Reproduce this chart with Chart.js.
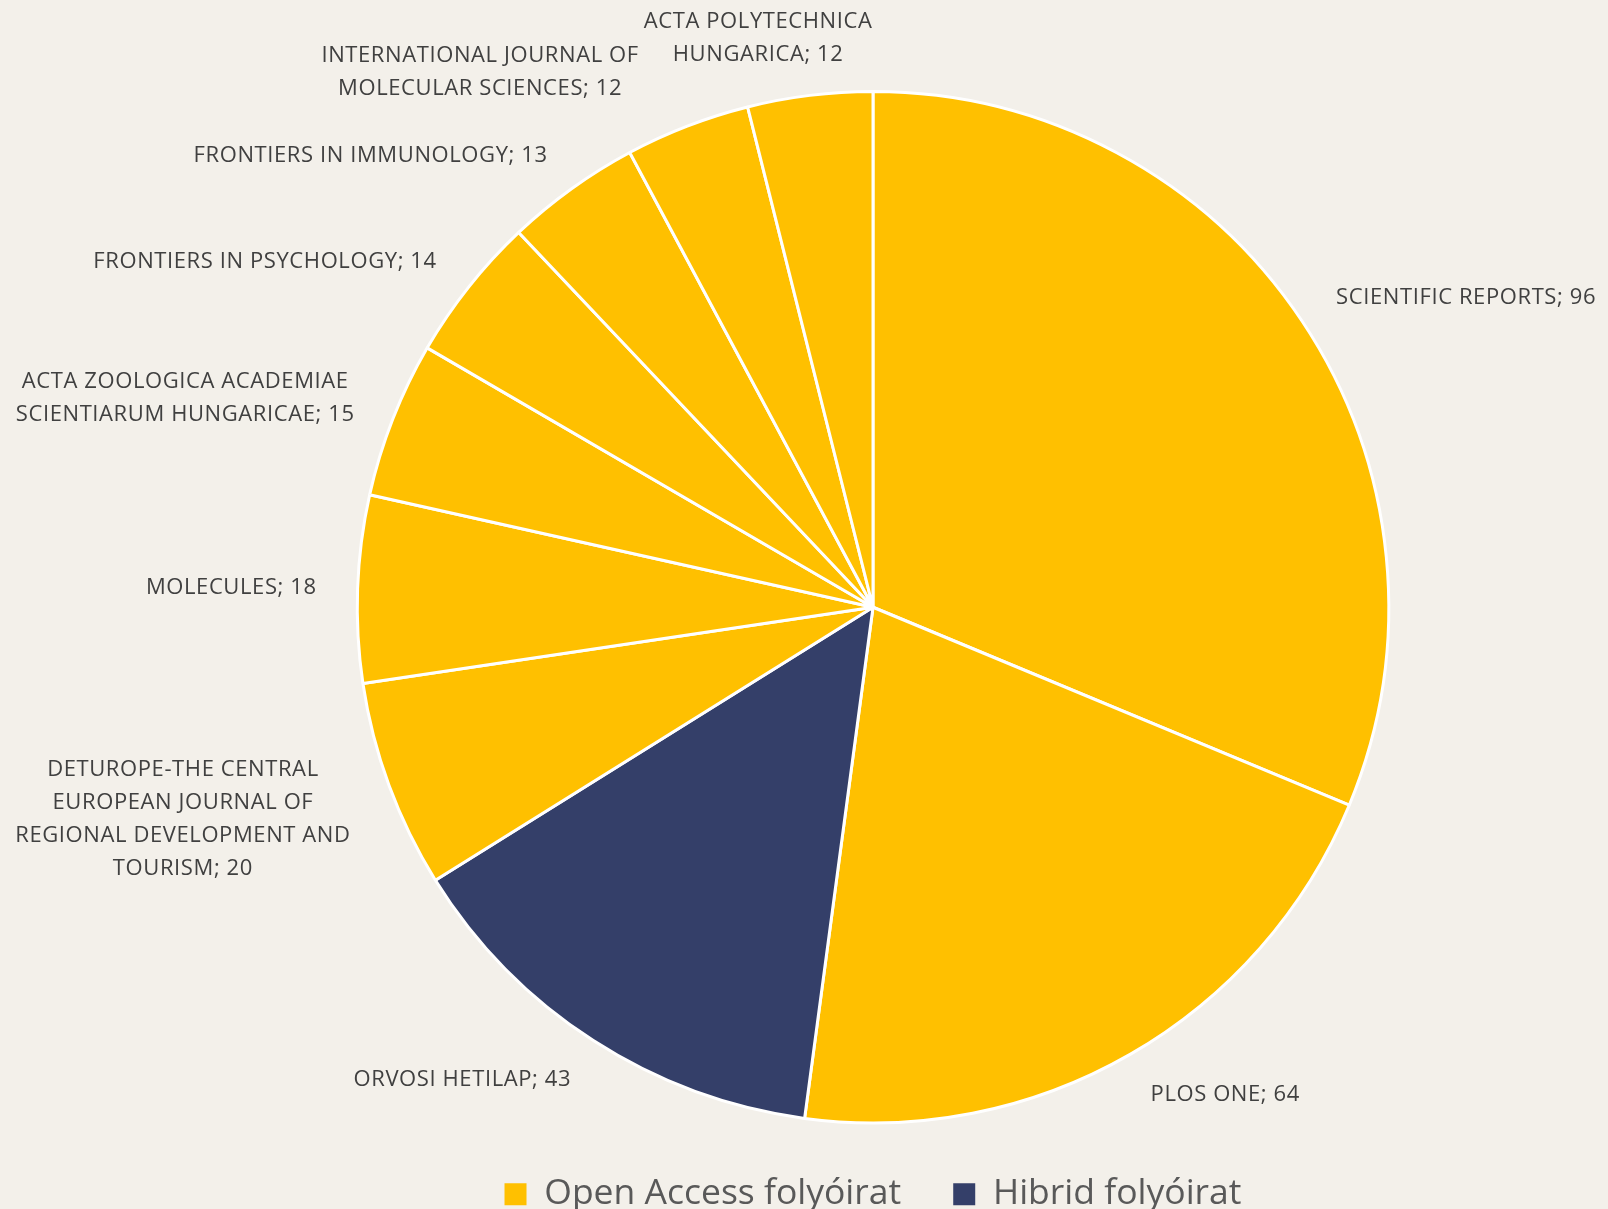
<!DOCTYPE html>
<html>
<head>
<meta charset="utf-8">
<script src="https://cdn.jsdelivr.net/npm/chart.js@4"></script>
<style>
  html, body { margin: 0; padding: 0; background: #F3F0EA; }
  #chart { display: block; }
</style>
</head>
<body>
<canvas id="chart" width="1608" height="1209"></canvas>
<script>
// folyóiratok (sorokra tördelve, ahogy a képen)
const journalNames = [
    ['SCIENTIFIC REPORTS'],
    ['PLOS ONE'],
    ['ORVOSI HETILAP'],
    ['DETUROPE-THE CENTRAL', 'EUROPEAN JOURNAL OF', 'REGIONAL DEVELOPMENT AND', 'TOURISM'],
    ['MOLECULES'],
    ['ACTA ZOOLOGICA ACADEMIAE', 'SCIENTIARUM HUNGARICAE'],
    ['FRONTIERS IN PSYCHOLOGY'],
    ['FRONTIERS IN IMMUNOLOGY'],
    ['INTERNATIONAL JOURNAL OF', 'MOLECULAR SCIENCES'],
    ['ACTA POLYTECHNICA', 'HUNGARICA']
];
const articleCounts = [96, 64, 43, 20, 18, 15, 14, 13, 12, 12];
const journalTypes = ['oa', 'oa', 'hibrid', 'oa', 'oa', 'oa', 'oa', 'oa', 'oa', 'oa'];

const typeNames = { oa: 'Open Access folyóirat', hibrid: 'Hibrid folyóirat' };
const typeColors = { oa: '#FFC000', hibrid: '#343F69' };

const labelFont = '22px "Open Sans"';
const labelColor = '#404040';
const lineH = 33;
const labelGap = 41;

// címkék a szeletek mellé, a középszög irányában, átfedés nélkül
const outsideLabels = {
    id: 'outsideLabels',
    afterDatasetsDraw(chart) {
        const ctx = chart.ctx;
        const meta = chart.getDatasetMeta(0);
        ctx.save();
        ctx.font = labelFont;
        if ('letterSpacing' in ctx) ctx.letterSpacing = '0.6px';
        ctx.fillStyle = labelColor;
        ctx.textBaseline = 'middle';
        ctx.textAlign = 'center';

        const boxes = meta.data.map((arc, i) => {
            const p = arc.getProps(['x', 'y', 'startAngle', 'endAngle', 'outerRadius'], true);
            const mid = (p.startAngle + p.endAngle) / 2;
            const cos = Math.cos(mid), sin = Math.sin(mid);
            const ax = p.x + cos * (p.outerRadius + labelGap);
            const ay = p.y + sin * (p.outerRadius + labelGap);

            const lines = journalNames[i].slice();
            lines[lines.length - 1] += '; ' + articleCounts[i];
            const w = Math.max(...lines.map(l => ctx.measureText(l).width));
            const h = lines.length * lineH;
            const s = Math.max(-1, Math.min(1, cos / 0.3));
            const cx = ax + s * w / 2;
            const cy = ay + sin * (lines.length - 1) * lineH / 2 + Math.max(sin, 0) * 6;
            return { lines, w, h, cx, cy, left: cx - w / 2, top: cy - h / 2, side: cos < 0 ? -1 : 1 };
        });

        // a felső címkéktől lefelé haladva toljuk el az ütközőket
        const placed = [];
        for (let i = boxes.length - 1; i >= 0; i--) {
            const b = boxes[i];
            placed.forEach(o => {
                const overlapX = b.left < o.left + o.w && b.left + b.w > o.left;
                const overlapY = b.top < o.top + o.h - 4 && b.top + b.h - 4 > o.top;
                if (overlapX && overlapY) {
                    b.left = b.side < 0 ? o.left - 5 - b.w : o.left + o.w + 5;
                }
            });
            placed.push(b);
        }

        boxes.forEach(b => {
            b.lines.forEach((l, k) => {
                ctx.fillText(l, b.left + b.w / 2, b.top + lineH / 2 + k * lineH);
            });
        });
        ctx.restore();
    }
};

new Chart(document.getElementById('chart').getContext('2d'), {
    type: 'pie',
    data: {
        labels: journalNames.map(n => n.join(' ')),
        datasets: [{
            data: articleCounts,
            backgroundColor: journalTypes.map(t => typeColors[t]),
            borderColor: '#FFFFFF',
            borderWidth: 3
        }]
    },
    options: {
        responsive: false,
        devicePixelRatio: 1,
        animation: false,
        layout: {
            padding: { top: 90, left: 138, right: 0, bottom: -13 }
        },
        plugins: {
            tooltip: { enabled: false },
            legend: {
                position: 'bottom',
                onClick: () => {},
                labels: {
                    boxWidth: 22,
                    boxHeight: 22,
                    padding: 52,
                    color: '#595959',
                    font: { family: '"Open Sans"', size: 35.5, lineHeight: 1 },
                    generateLabels: () => ['oa', 'hibrid'].map(t => ({
                        text: typeNames[t],
                        fillStyle: typeColors[t],
                        strokeStyle: typeColors[t],
                        fontColor: '#595959',
                        lineWidth: 0,
                        hidden: false
                    }))
                }
            }
        }
    },
    plugins: [outsideLabels]
});
</script>
</body>
</html>
